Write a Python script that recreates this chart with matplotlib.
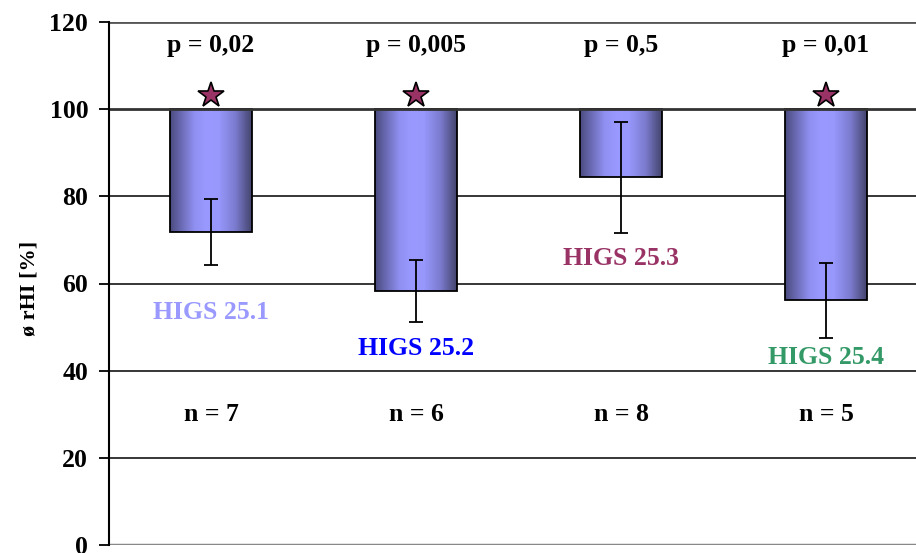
import numpy as np
import matplotlib
matplotlib.use("Agg")
import matplotlib.pyplot as plt
from matplotlib.colors import LinearSegmentedColormap

# relative HI per group (%), bars hang down from 100
groups = ["HIGS 25.1", "HIGS 25.2", "HIGS 25.3", "HIGS 25.4"]
means = [71.9, 58.3, 84.4, 56.2]
errors = [7.6, 7.1, 12.7, 8.6]
p_values = ["p = 0,02", "p = 0,005", "p = 0,5", "p = 0,01"]
n_values = ["n = 7", "n = 6", "n = 8", "n = 5"]
significant = [True, True, False, True]
label_colors = ["#9999ff", "#0000ff", "#993366", "#339966"]
label_y = [53.4, 45.2, 65.8, 43.1]

plt.rcParams["font.family"] = ["Liberation Serif", "DejaVu Serif"]
plt.rcParams["font.weight"] = "bold"

fig = plt.figure(figsize=(9.16, 5.53), dpi=100)
ax = fig.add_axes([109 / 916, 8 / 553, (916 - 109) / 916, (545 - 22) / 553])

x = np.arange(len(groups))
width = 0.4
base = 100
fs = 18.5

# horizontal gridlines
for yv in [20, 40, 60, 80]:
    ax.axhline(yv, color="black", lw=1.1, zorder=1)
ax.axhline(120, color="#555555", lw=2.0, zorder=1)
ax.axhline(0, color="#888888", lw=2.5, zorder=1)

bars = ax.bar(x, np.array(means) - base, bottom=base, width=width,
              facecolor="none", edgecolor="black", lw=1.3, zorder=3)

# shaded cylinder-style fill inside each bar
shade = LinearSegmentedColormap.from_list(
    "shade", [(0, "#4b4b80"), (0.3, "#9090f2"), (0.45, "#9999ff"),
              (0.6, "#9797fc"), (0.8, "#7b7bcf"), (1, "#44446c")])
grad = np.linspace(0, 1, 256).reshape(1, -1)
for b in bars:
    x0 = b.get_x()
    ax.imshow(grad, cmap=shade, aspect="auto", zorder=2,
              extent=[x0, x0 + b.get_width(), b.get_y() + b.get_height(), b.get_y()])

ax.axhline(base, color="#333333", lw=2.0, zorder=4)

ax.errorbar(x, means, yerr=errors, fmt="none", ecolor="black",
            elinewidth=1.3, capsize=5, capthick=1.3, zorder=5)

for i in range(len(groups)):
    ax.text(x[i], 114.6, p_values[i], ha="center", va="center", fontsize=fs, fontweight="bold")
    ax.text(x[i], 30.0, n_values[i], ha="center", va="center", fontsize=fs, fontweight="bold")
    ax.text(x[i], label_y[i], groups[i], ha="center", va="center", fontsize=fs,
            fontweight="bold", color=label_colors[i])
    if significant[i]:
        ax.plot(x[i], 103.2, marker="*", markersize=19, color="#993366",
                markeredgecolor="black", markeredgewidth=1.2, zorder=6, clip_on=False)

ax.set_xlim(-0.4976, 3.439)
ax.set_ylim(0, 120)
ax.set_yticks([0, 20, 40, 60, 80, 100, 120])
ax.tick_params(axis="y", labelsize=fs, length=7, width=1.3, direction="out", pad=8)
ax.set_xticks([])
for lab in ax.get_yticklabels():
    lab.set_fontweight("bold")
for s in ["top", "right", "bottom"]:
    ax.spines[s].set_visible(False)
ax.spines["left"].set_linewidth(1.5)
ax.spines["left"].set_zorder(7)
ax.set_ylabel("ø rHI [%]", fontsize=16, fontweight="bold")
ax.yaxis.set_label_coords(-0.086, 0.49)

fig.savefig("out.png", dpi=100)
